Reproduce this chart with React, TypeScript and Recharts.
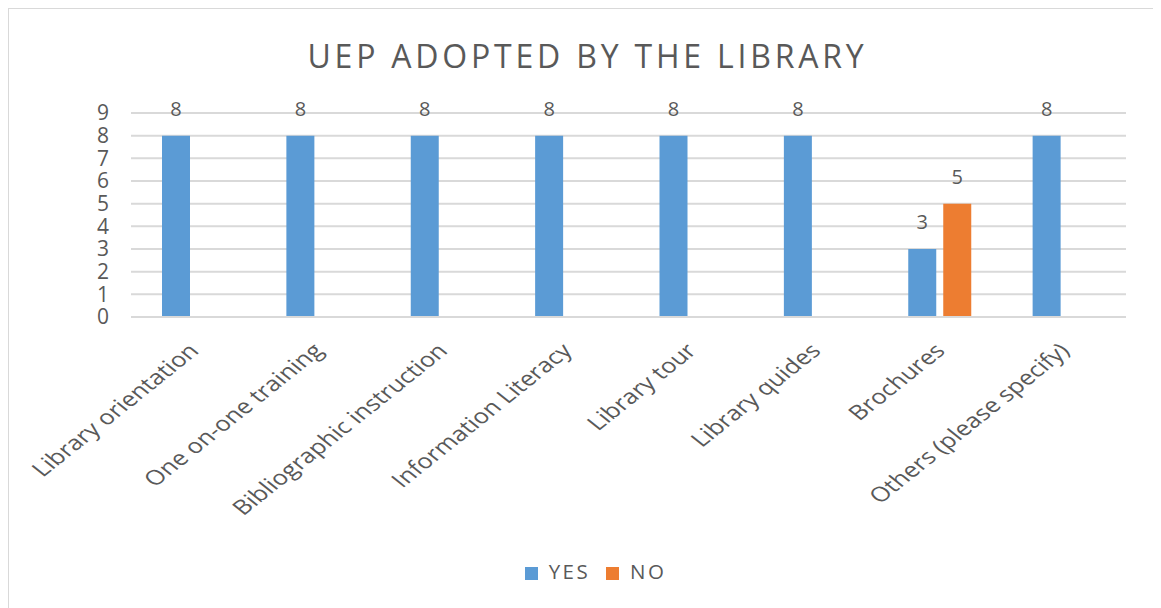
import { BarChart, Bar, XAxis, YAxis, CartesianGrid, Legend, LabelList } from 'recharts';

const categories = [
  'Library orientation',
  'One on-one training',
  'Bibliographic instruction',
  'Information Literacy',
  'Library tour',
  'Library quides',
  'Brochures',
  'Others (please specify)',
];
const yesValues = [8, 8, 8, 8, 8, 8, 3, 8];
const noValues: Array<number | null> = [null, null, null, null, null, null, 5, null];
const yTicks = [0, 1, 2, 3, 4, 5, 6, 7, 8, 9];

const data = categories.map((name, i) => ({ name, YES: yesValues[i], NO: noValues[i] }));

const textColor = '#595959';
const font = '"Open Sans", sans-serif';

// the source picture is stretched sideways, so the slanted labels get a scaleX too
function XTick(props: any) {
  const { x, y, payload } = props;
  return (
    <g transform={`translate(${x + 7},${y + 27})`}>
      <text transform="scale(1.25,1) rotate(-45)" textAnchor="end" fill={textColor} fontSize={20.5} fontFamily={font}>
        {payload.value}
      </text>
    </g>
  );
}

export default function App() {
  return (
    <div style={{ width: 1145, height: 602, border: '1px solid #d9d9d9', position: 'relative', background: '#fff' }}>
      <div
        style={{
          position: 'absolute',
          top: 25,
          left: 5,
          width: 1147,
          textAlign: 'center',
          fontFamily: font,
          fontSize: 32,
          color: textColor,
          letterSpacing: 3.8,
        }}
      >
        UEP ADOPTED BY THE LIBRARY
      </div>
      <BarChart
        width={1147}
        height={600}
        data={data}
        margin={{ top: 104, right: 30, left: 0, bottom: 12 }}
        barSize={28}
        barGap={7}
      >
        <CartesianGrid vertical={false} stroke="#d9d9d9" strokeWidth={2} />
        <XAxis
          dataKey="name"
          interval={0}
          tick={<XTick />}
          tickLine={false}
          axisLine={{ stroke: '#d9d9d9', strokeWidth: 2 }}
          height={240}
        />
        <YAxis
          width={122}
          domain={[0, 9]}
          ticks={yTicks}
          interval={0}
          tickLine={false}
          axisLine={false}
          tickMargin={16}
          tick={{ fill: textColor, fontSize: 21, fontFamily: font }}
        />
        <Legend
          verticalAlign="bottom"
          height={40}
          iconType="square"
          iconSize={13}
          itemSorter={(item: any) => (item.value === 'YES' ? 0 : 1)}
          wrapperStyle={{ fontFamily: font, fontSize: 20.5, paddingLeft: 36 }}
          formatter={(value: string) => (
            <span style={{ color: textColor, letterSpacing: 2.4, marginLeft: 7, marginRight: 6 }}>{value}</span>
          )}
        />
        <Bar dataKey="YES" fill="#5b9bd5" isAnimationActive={false}>
          <LabelList dataKey="YES" position="top" offset={20} fill={textColor} fontSize={20} fontFamily={font} />
        </Bar>
        <Bar dataKey="NO" fill="#ed7d31" isAnimationActive={false}>
          <LabelList dataKey="NO" position="top" offset={20} fill={textColor} fontSize={20} fontFamily={font} />
        </Bar>
      </BarChart>
    </div>
  );
}
